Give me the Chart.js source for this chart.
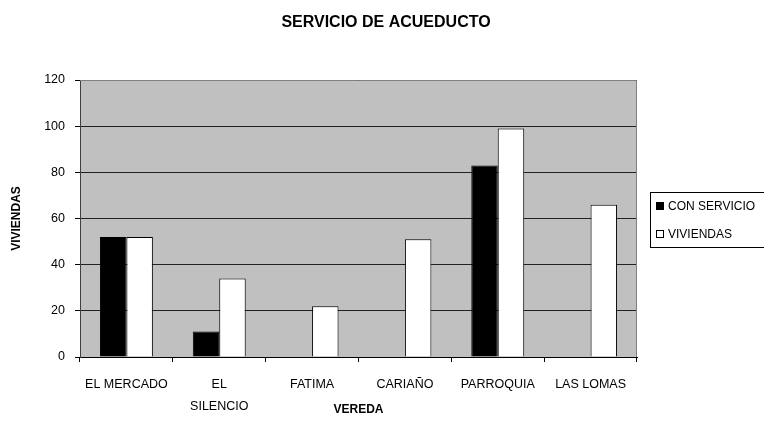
<!DOCTYPE html>
<html>
<head>
<meta charset="utf-8">
<script src="https://cdn.jsdelivr.net/npm/chart.js@4/dist/chart.umd.min.js"></script>
<style>
  html, body { margin:0; padding:0; background:#fff; }
</style>
</head>
<body>
<canvas id="chart" width="764" height="443"></canvas>
<script>
// data
const veredas = ['EL MERCADO', ['EL', 'SILENCIO'], 'FATIMA', 'CARIAÑO', 'PARROQUIA', 'LAS LOMAS'];
const conServicio = [52, 11, 0, 0, 83, 0];
const viviendas = [52, 34, 22, 51, 99, 66];
const yMin = 0, yMax = 120, yStep = 20;
const chartTitle = 'SERVICIO DE ACUEDUCTO';

const FONT = 'Arial, "Liberation Sans", sans-serif';

// gray plot area + gray frame on top/right, title centred over the whole picture
const plotArea = {
  id: 'plotArea',
  beforeDraw(chart) {
    const { ctx, chartArea: a } = chart;
    ctx.save();
    ctx.fillStyle = '#c0c0c0';
    ctx.fillRect(a.left, a.top, a.right - a.left, a.bottom - a.top);
    ctx.fillStyle = '#000';
    ctx.font = 'bold 16px ' + FONT;
    ctx.textAlign = 'center';
    ctx.textBaseline = 'middle';
    ctx.fillText(chartTitle, 386, 23);
    ctx.restore();
  },
  beforeDatasetsDraw(chart) {
    const { ctx, chartArea: a } = chart;
    ctx.save();
    ctx.strokeStyle = '#808080';
    ctx.lineWidth = 1;
    ctx.beginPath();
    ctx.moveTo(a.left, a.top + 0.5);
    ctx.lineTo(a.right - 0.5, a.top + 0.5);
    ctx.lineTo(a.right - 0.5, a.bottom);
    ctx.stroke();
    ctx.restore();
  }
};

// boxed legend at the right, clipped by the canvas edge like the original
const boxLegend = {
  id: 'boxLegend',
  afterDraw(chart) {
    const ctx = chart.ctx;
    const x = 650, y = 192, w = 130, h = 55;
    ctx.save();
    ctx.fillStyle = '#fff';
    ctx.fillRect(x, y, w, h);
    ctx.strokeStyle = '#000';
    ctx.lineWidth = 1;
    ctx.strokeRect(x + 0.5, y + 0.5, w, h);
    ctx.font = '12px ' + FONT;
    ctx.textBaseline = 'middle';
    chart.data.datasets.forEach((ds, i) => {
      const cy = y + 14 + i * 28;
      ctx.fillStyle = ds.backgroundColor;
      ctx.fillRect(x + 6, cy - 4, 8, 8);
      ctx.strokeStyle = '#000';
      ctx.strokeRect(x + 6.5, cy - 3.5, 7, 7);
      ctx.fillStyle = '#000';
      ctx.fillText(ds.label, x + 18, cy + 1);
    });
    ctx.restore();
  }
};

new Chart(document.getElementById('chart'), {
  type: 'bar',
  data: {
    labels: veredas,
    datasets: [
      { label: 'CON SERVICIO', data: conServicio, backgroundColor: '#000000', borderColor: '#000', borderWidth: 1 },
      { label: 'VIVIENDAS', data: viviendas, backgroundColor: '#ffffff', borderColor: '#000', borderWidth: 1 }
    ]
  },
  options: {
    responsive: false,
    animation: false,
    layout: { padding: { left: 0, right: 127, top: 80, bottom: 0 } },
    datasets: { bar: { categoryPercentage: 0.57, barPercentage: 1.0 } },
    plugins: {
      legend: { display: false },
      tooltip: { enabled: false },
      title: { display: false }
    },
    scales: {
      x: {
        afterFit(s) { s.height = 86; },
        grid: { drawOnChartArea: false, drawTicks: true, tickLength: 5, tickColor: '#000' },
        border: { color: '#000' },
        ticks: { color: '#000', padding: 12, maxRotation: 0, autoSkip: false,
                 font: { family: FONT, size: 12.5, lineHeight: 1.75 } },
        title: { display: true, text: 'VEREDA', color: '#000',
                 font: { family: FONT, size: 12, weight: 'bold' }, padding: { top: 0, bottom: 26 } }
      },
      y: {
        min: yMin, max: yMax,
        afterFit(s) { s.width = 80; },
        grid: { color: '#222', tickLength: 5, tickColor: '#000' },
        border: { color: '#404040' },
        ticks: { stepSize: yStep, color: '#000', padding: 10,
                 font: { family: FONT, size: 12.5 } },
        title: { display: true, text: 'VIVIENDAS', color: '#000',
                 font: { family: FONT, size: 12, weight: 'bold' }, padding: { top: 9, bottom: 0 } }
      }
    }
  },
  plugins: [plotArea, boxLegend]
});
</script>
</body>
</html>
